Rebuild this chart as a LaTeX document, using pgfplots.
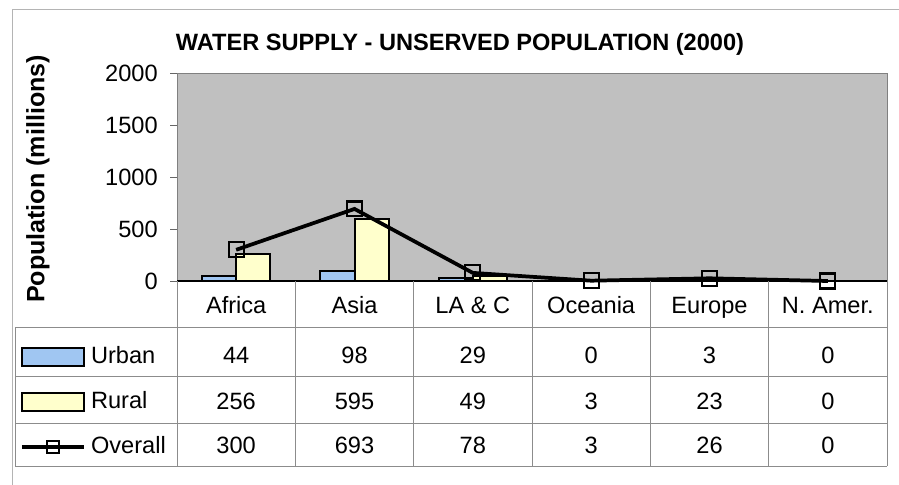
\documentclass[border=0pt]{standalone}
\usepackage{pgfplots}
\pgfplotsset{compat=1.18}
\usepackage{pgfplotstable}
\usepackage{fontspec}
\setmainfont{Liberation Sans}
\definecolor{plotgray}{HTML}{C0C0C0}
\definecolor{urbanblue}{HTML}{A0C6F2}
\definecolor{ruralyellow}{HTML}{FFFFCC}
\definecolor{tablegray}{HTML}{8C8C8C}
\definecolor{framegray}{HTML}{B4B4B4}
\newcommand\tf{\fontsize{17.7pt}{21pt}\selectfont}
\pgfplotsset{
  barleg/.style={legend image code/.code={\draw[##1] (0pt,-7.9pt) rectangle (46.5pt,5.6pt);}},
  lineleg/.style={legend image code/.code={\draw[##1, mark size=4.5pt, mark repeat=2, mark phase=2] plot coordinates {(0pt,-1.1pt) (23.25pt,-1.1pt) (46.5pt,-1.1pt)};}},
}

\pgfplotstableread{
x urban rural overall
0 44 256 300
1 98 595 693
2 29 49 78
3 0 3 3
4 3 23 26
5 0 0 0
}\data

\begin{document}
\begin{tikzpicture}
\path[use as bounding box] (0,0) rectangle (674.25pt,-363.75pt);
\begin{axis}[
  at={(132.75pt,-210.75pt)}, anchor=south west,
  scale only axis, width=532.5pt, height=156pt,
  xmin=-0.5, xmax=5.5, ymin=0, ymax=2000,
  xtick=\empty,
  ytick={0,500,1000,1500,2000},
  ytick pos=left,
  axis background/.style={fill=plotgray},
  axis line style={draw=black!50, line width=0.75pt},
  tick align=outside, major tick length=5.25pt,
  ytick style={draw=black!60, line width=0.75pt},
  yticklabel style={font=\tf, inner sep=0pt, anchor=east, xshift=-9pt},
  /pgf/number format/assume math mode=true,
  /pgf/number format/1000 sep={},
  clip=false,
  legend cell align=left,
  legend style={at={(axis description cs:-0.22113,-0.25)}, anchor=north west,
    draw=none, fill=none, inner sep=0pt, outer sep=0pt,
    row sep=0pt, column sep=4pt, font=\tf,
    nodes={inner sep=0pt, text height=12.7pt, text depth=0pt, minimum height=33.75pt}},
]
\addplot[ybar, bar width=0.29, bar shift=-0.145, fill=urbanblue, draw=black, line width=1.5pt, barleg]
  table[x=x,y=urban]{\data};
\addlegendentry{Urban}
\addplot[ybar, bar width=0.29, bar shift=0.145, fill=ruralyellow, draw=black, line width=1.5pt, barleg]
  table[x=x,y=rural]{\data};
\addlegendentry{Rural}
\draw[black, line width=1.5pt] (axis cs:-0.5,0) -- (axis cs:5.5,0);
\addplot[black, line width=2.8pt, mark=square, mark size=5.6pt,
  mark options={line width=1.6pt, fill=none, solid}, lineleg]
  table[x=x,y=overall]{\data};
\addlegendentry{Overall}
\end{axis}
\begin{scope}[x=0.75pt,y=-0.75pt]
  \draw[framegray, line width=0.75pt] (12,485) -- (12,10) -- (899,10);
  \draw[tablegray, line width=0.75pt]
    (15,327) -- (887,327) (15,376) -- (887,376) (15,423) -- (887,423)
    (15,466) -- (887,466) (15,327) -- (15,466);
  \foreach \k in {0,...,6} \draw[tablegray, line width=0.75pt] ({177+118.333*\k},281) -- ({177+118.333*\k},466);
  \node[font=\tf\bfseries, anchor=base] at (460,51) {WATER SUPPLY - UNSERVED POPULATION (2000)};
  \node[font=\fontsize{18.8pt}{22pt}\selectfont\bfseries, rotate=90] at (38,179) {Population (millions)};
  \foreach \lab [count=\i from 0] in {Africa,Asia,LA \& C,Oceania,Europe,N. Amer.} {
    \pgfmathsetmacro\cx{236.17+118.333*\i}
    \node[font=\tf, anchor=base] at (\cx,313) {\lab};
    \pgfplotstablegetelem{\i}{urban}\of\data
    \node[font=\tf, anchor=base] at (\cx,363) {\pgfplotsretval};
    \pgfplotstablegetelem{\i}{rural}\of\data
    \node[font=\tf, anchor=base] at (\cx,409) {\pgfplotsretval};
    \pgfplotstablegetelem{\i}{overall}\of\data
    \node[font=\tf, anchor=base] at (\cx,453) {\pgfplotsretval};
  }
\end{scope}
\end{tikzpicture}
\end{document}
